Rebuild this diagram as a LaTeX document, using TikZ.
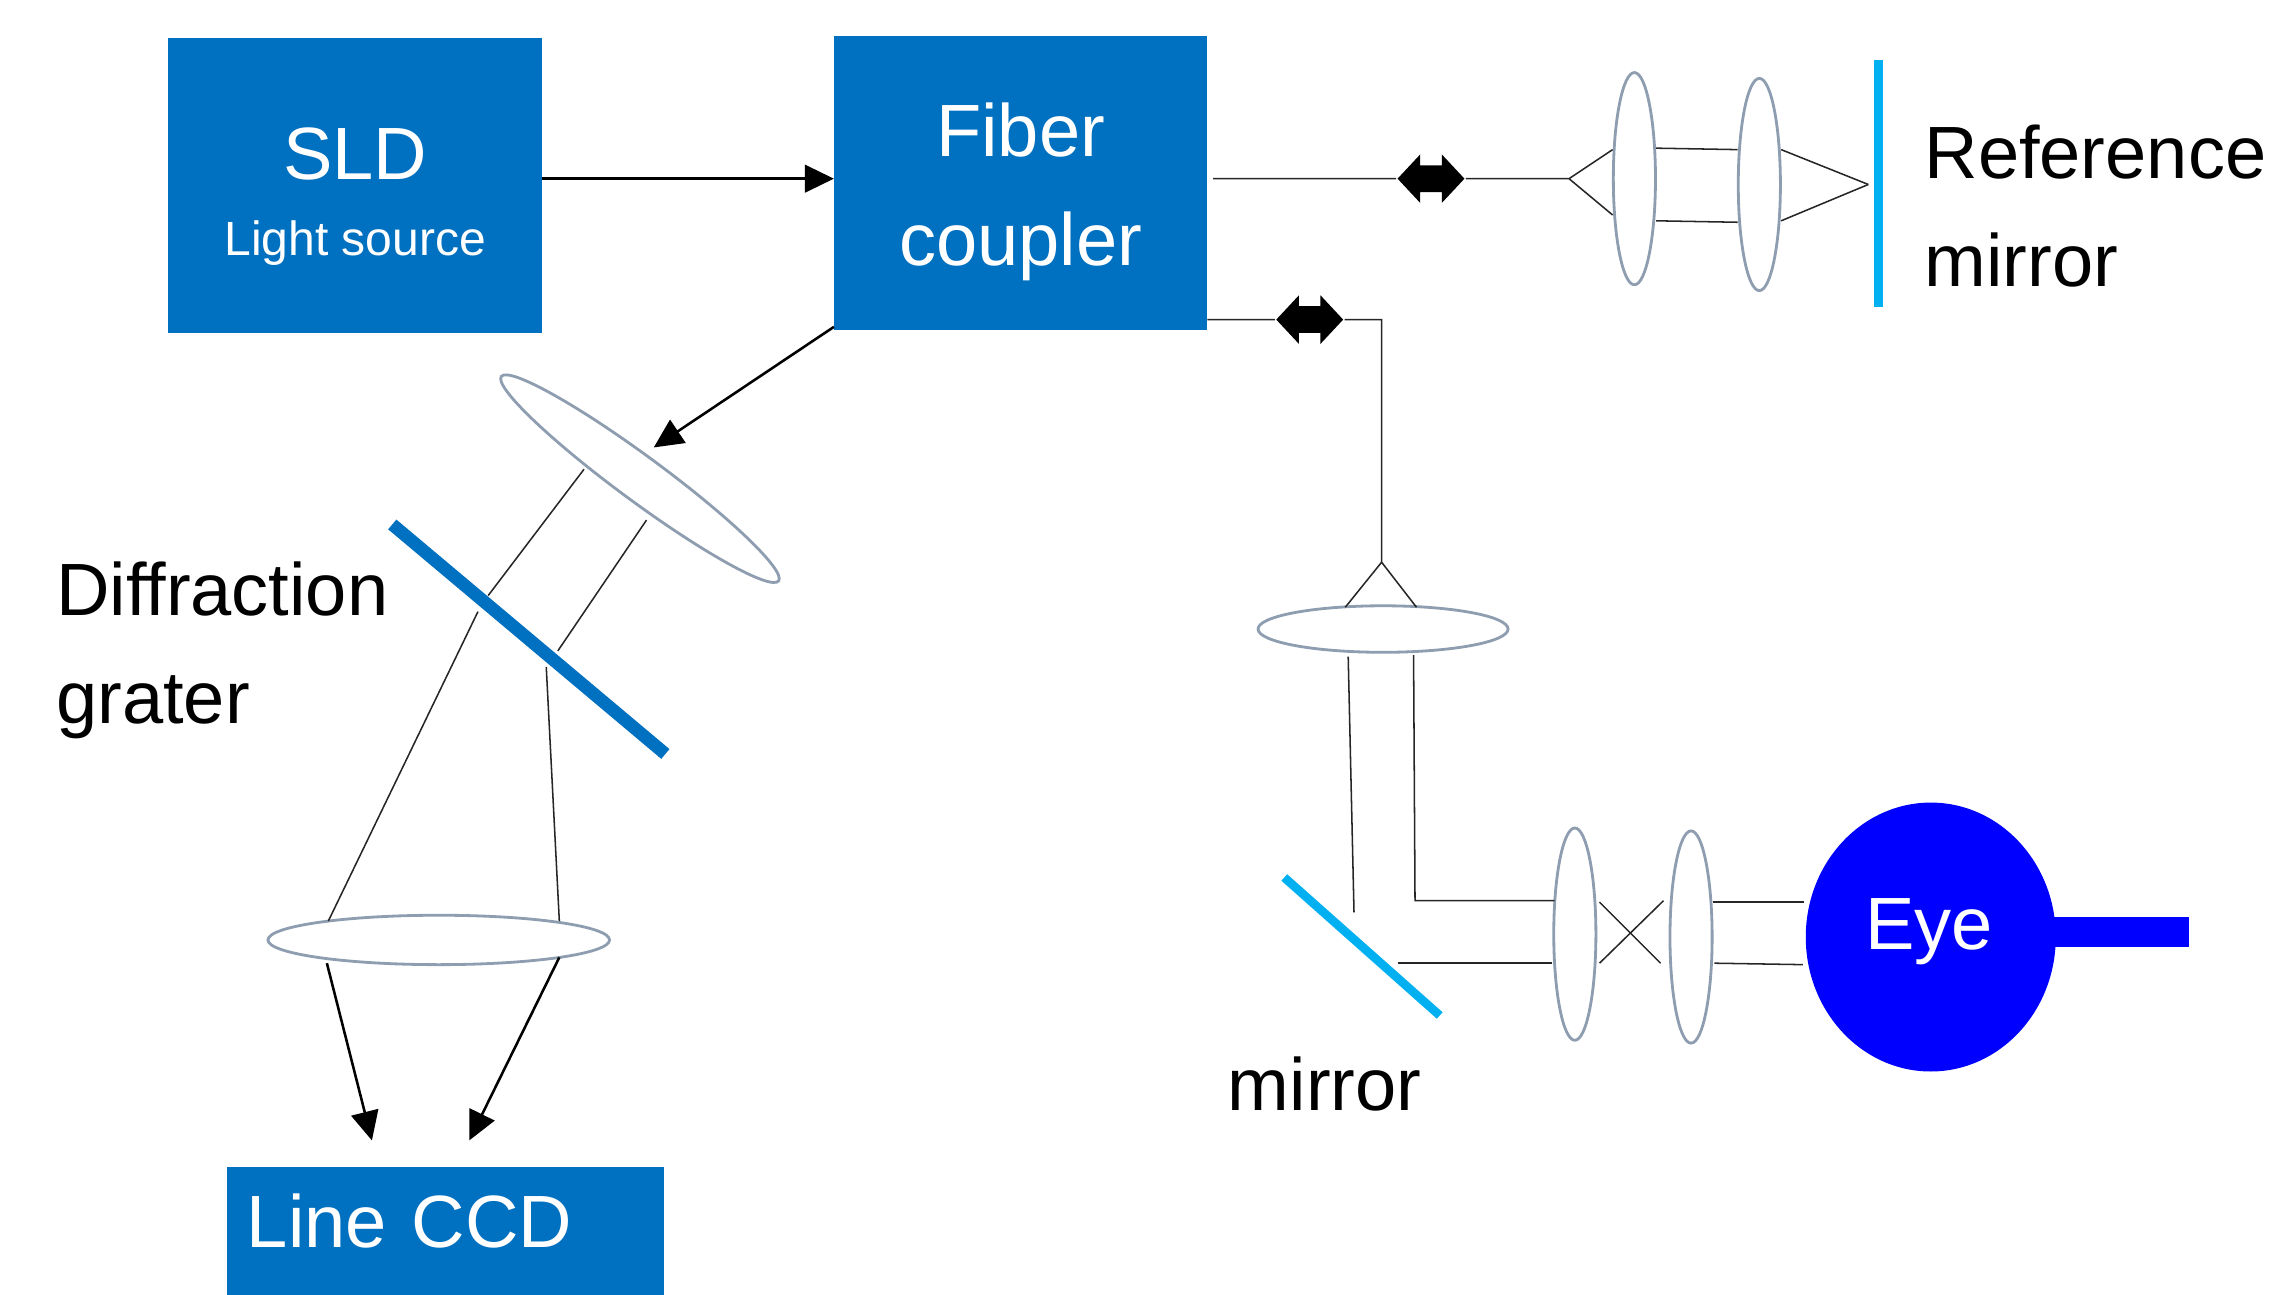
\documentclass[tikz,border=0pt]{standalone}
\usepackage{fontspec}
\setmainfont{Liberation Sans}
\usetikzlibrary{arrows.meta,positioning,shapes.geometric,shapes.arrows}
\definecolor{azure}{RGB}{0,112,192}
\definecolor{sky}{RGB}{0,176,240}
\definecolor{eyeblue}{RGB}{0,0,255}
\definecolor{slate}{RGB}{142,157,176}
\tikzset{
  >={Triangle[length=2mm,width=1.9mm]},
  panel/.style={fill=azure,text=white,inner sep=0pt,align=center,font=\fontsize{14.5}{21.2}\selectfont},
  caption/.style={inner sep=0pt,anchor=west,align=left,font=\fontsize{14.5}{21.2}\selectfont},
  vlens/.style={ellipse,draw=slate,line width=.55pt,inner sep=0pt,minimum width=2.9mm,minimum height=14.6mm},
  hlens/.style={ellipse,draw=slate,line width=.55pt,inner sep=0pt},
  beam/.style={line width=.3pt,draw=black!85},
  flow/.style={->,line width=.5pt},
  shifter/.style={double arrow,fill=black,inner xsep=0pt,inner ysep=.85mm,minimum height=4.6mm,
    double arrow head extend=.75mm,double arrow tip angle=94},
  mirrorbar/.style={draw=sky,line width=#1},
  mirrorbar/.default=1.7pt,
}
\begin{document}
\begin{tikzpicture}[x=.01cm,y=-.01cm]
  \useasboundingbox (0,0) rectangle (1568,891.4);
  % boxes
  \node[panel,minimum width=25.7mm,minimum height=20.3mm] (sld) at (244.5,127.5)
    {\rule{0pt}{14.6pt}SLD\\[-6.3pt]{\fontsize{9.4}{12}\selectfont Light source}};
  \node[panel,minimum width=25.7mm,minimum height=20.2mm] (coupler) at (702.5,126) {\rule{0pt}{14pt}Fiber\\coupler};
  \node[panel,minimum width=30.1mm,minimum height=8.84mm,text width=27.3mm,align=left] (ccd) at (306.5,847.2)
    {\rule[-4pt]{0pt}{1pt}Line CCD};
  % eye
  \fill[eyeblue] (1410,631) rectangle (1507,652);
  \node[ellipse,fill=eyeblue,inner sep=0pt,minimum width=17.2mm,minimum height=18.5mm] (eye) at (1329,645) {};
  \node[text=white,inner sep=0pt,font=\fontsize{14.5}{21.2}\selectfont] (eyetext) at (1328,641) {Eye};
  % lenses
  \node[vlens] (ref1) at (1125,123) {};
  \node[vlens] (ref2) at (1211,127) {};
  \node[vlens] (eye1) at (1084,643) {};
  \node[vlens] (eye2) at (1164,645) {};
  \node[hlens,minimum width=17.2mm,minimum height=3.2mm] (top) at (952,433) {};
  \node[hlens,minimum width=23.5mm,minimum height=3.4mm] (low) at (302,647) {};
  \node[hlens,minimum width=23.7mm,minimum height=3.1mm,rotate=-36.4] (tilt) at (440.5,329.5) {};
  % shifters
  \node[shifter] (s1) at (985,123) {};
  \node[shifter] (s2) at (901.5,220) {};
  % labels
  \node[caption] (reflabel) at (1324,142) {Reference\\mirror};
  \node[caption] (gratelabel) at (38,447.5) {Diffraction\\grater};
  \node[caption] (mirrorlabel) at (844.5,746.5) {mirror};
  % beam points
  \foreach \n/\x/\y in {a1/373/123,a2/574/123,b1/574/225,b2/450/308,c1/835/123,c2/1080/123,c3/1110/103,c4/1110/148,
    d1/1140/102,d2/1196/103,d3/1140/152,d4/1196/153,e1/1226/103,e2/1286/127,e3/1226/152,
    f1/831/220,f2/951/220,f3/951/387,f4/926/418,f5/975/418,
    g1/928/452,g2/932/628,h1/973/451,h2/974/620,h3/1070/620,k1/962/663,k2/1068/663,
    m1/1101/621,m2/1143/663,m3/1145/620,m4/1101/663,n1/1179/621,n2/1242/621,n3/1180/663,n4/1241/664,
    p1/402/323,p2/336/410,p3/329/421,p4/226/634,q1/445/358,q2/384/448,q3/376/459,q4/385/634,
    r1/225/663,r2/256/785,t1/385/659,t2/323/785,
    u1/1293/41,u2/1293/211,v1/884/604,v2/991/699,w1/270/361,w2/458/519}
    \coordinate (\n) at (\x,\y);
  % beams
  \draw[flow] (a1) -- (a2);
  \draw[flow] (b1) -- (b2);
  \draw[flow] (r1) -- (r2);
  \draw[flow] (t1) -- (t2);
  \draw[beam] (c1) -- (s1) -- (c2) -- (c3) (c2) -- (c4);
  \draw[beam] (f1) -- (s2) -- (f2) -- (f3) -- (f4) (f3) -- (f5);
  \draw[beam] (h1) -- (h2) -- (h3);
  \foreach \a/\b in {d1/d2,d3/d4,e1/e2,e3/e2,g1/g2,k1/k2,m1/m2,m3/m4,n1/n2,n3/n4,p1/p2,p3/p4,q1/q2,q3/q4}
    \draw[beam] (\a) -- (\b);
  % mirrors
  \draw[mirrorbar=1.8pt] (u1) -- (u2);
  \draw[mirrorbar] (v1) -- (v2);
  \draw[azure,line width=2.5pt] (w1) -- (w2);
\end{tikzpicture}
\end{document}
